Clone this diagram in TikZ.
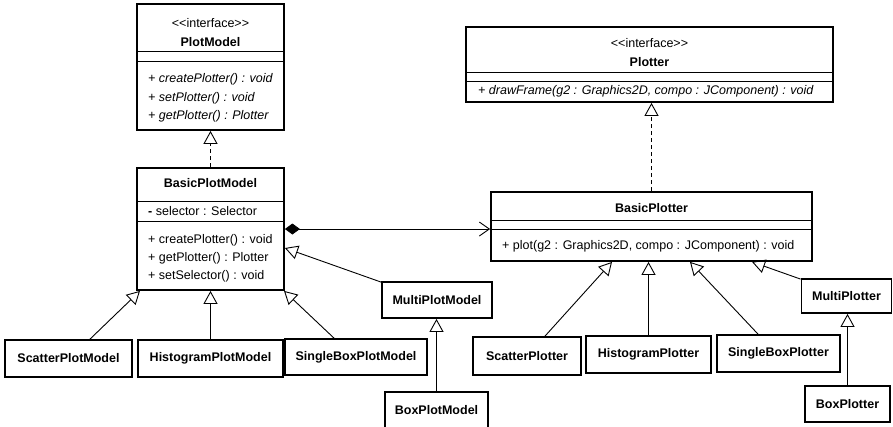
\documentclass[tikz,border=0pt]{standalone}
\usepackage{fontspec}
\setmainfont{Liberation Sans}
\usetikzlibrary{arrows.meta}
\begin{document}
\begin{tikzpicture}[x=1pt,y=-1pt,
  cls/.style={draw, line width=1.8pt, inner sep=0pt, fill=white,
    font=\fontsize{12.5}{14}\selectfont\bfseries},
  sepline/.style={line width=0.9pt},
  txt/.style={anchor=base west, inner sep=0pt, font=\fontsize{12.5}{14}\selectfont},
  itxt/.style={txt, font=\fontsize{12.5}{14}\selectfont\itshape},
  ctxt/.style={anchor=base, inner sep=0pt, font=\fontsize{12.5}{14}\selectfont},
  btxt/.style={anchor=base, inner sep=0pt, font=\fontsize{12.5}{14}\selectfont\bfseries},
  gen/.style={line width=0.9pt, -{Triangle[open, length=13pt, width=14pt, line width=0.9pt]}},
  realz/.style={gen, dash pattern=on 4pt off 3pt},
  comp/.style={line width=0.9pt, {Diamond[length=15pt, width=11pt]}-{Straight Barb[length=10pt, width=14pt, line width=0.9pt]}}
]
\useasboundingbox (0,0) rectangle (893,426);

% ---------- PlotModel ----------
\node[cls, minimum width=147pt, minimum height=126pt] (pm) at (210.5,67) {};
\draw[sepline] ([yshift=-48pt]pm.north west) -- ([yshift=-48pt]pm.north east);
\draw[sepline] ([yshift=-58pt]pm.north west) -- ([yshift=-58pt]pm.north east);
\node[ctxt] (pm1) at (210.5,27) {<{}<interface>{}>};
\node[btxt] (pm2) at (210.5,46) {PlotModel};
\node[itxt] (pm3) at (148,82) {+ createPlotter() : void};
\node[itxt] (pm4) at (148,101) {+ setPlotter() : void};
\node[itxt] (pm5) at (148,119) {+ getPlotter() : Plotter};

% ---------- BasicPlotModel ----------
\node[cls, minimum width=147pt, minimum height=122pt] (bpm) at (210.5,229) {};
\draw[sepline] ([yshift=-34pt]bpm.north west) -- ([yshift=-34pt]bpm.north east);
\draw[sepline] ([yshift=-54pt]bpm.north west) -- ([yshift=-54pt]bpm.north east);
\node[btxt] (bpm1) at (210.5,187) {BasicPlotModel};
\node[txt] (bpm2) at (148,215) {\textbf{-} selector : Selector};
\node[txt] (bpm3) at (148,243) {+ createPlotter() : void};
\node[txt] (bpm4) at (148,261) {+ getPlotter() : Plotter};
\node[txt] (bpm5) at (148,279) {+ setSelector() : void};

% ---------- Plotter ----------
\node[cls, minimum width=367pt, minimum height=75pt] (pl) at (649.5,64.5) {};
\draw[sepline] ([yshift=-46pt]pl.north west) -- ([yshift=-46pt]pl.north east);
\draw[sepline] ([yshift=-55pt]pl.north west) -- ([yshift=-55pt]pl.north east);
\node[ctxt] (pl1) at (649.5,47) {<{}<interface>{}>};
\node[btxt] (pl2) at (649.5,66) {Plotter};
\node[itxt] (pl3) at (478,94) {+ drawFrame(g2 : Graphics2D, compo : JComponent) : void};

% ---------- BasicPlotter ----------
\node[cls, minimum width=321pt, minimum height=69pt] (bp) at (651.5,226.5) {};
\draw[sepline] ([yshift=-29pt]bp.north west) -- ([yshift=-29pt]bp.north east);
\draw[sepline] ([yshift=-38pt]bp.north west) -- ([yshift=-38pt]bp.north east);
\node[btxt] (bp1) at (651.5,212) {BasicPlotter};
\node[txt] (bp2) at (502,249) {+ plot(g2 : Graphics2D, compo : JComponent) : void};

% ---------- left subclasses ----------
\node[cls, minimum width=127pt, minimum height=37pt] (spm) at (68.5,358.5) {ScatterPlotModel};
\node[cls, minimum width=145pt, minimum height=37pt] (hpm) at (210.5,358.5) {HistogramPlotModel};
\node[cls, minimum width=142pt, minimum height=36pt] (sbpm) at (356,357) {SingleBoxPlotModel};
\node[cls, minimum width=110pt, minimum height=36pt] (mpm) at (437,300) {MultiPlotModel};
\node[cls, minimum width=103pt, minimum height=36pt] (bxpm) at (436.5,410) {BoxPlotModel};

% ---------- right subclasses ----------
\node[cls, minimum width=108pt, minimum height=38pt] (sp) at (527,356) {ScatterPlotter};
\node[cls, minimum width=125pt, minimum height=37pt] (hp) at (648.5,354.5) {HistogramPlotter};
\node[cls, minimum width=123pt, minimum height=37pt] (sbp) at (778.5,353.5) {SingleBoxPlotter};
\node[cls, minimum width=90pt, minimum height=34pt] (mp) at (846.5,296) {MultiPlotter};
\node[cls, minimum width=85pt, minimum height=36pt] (bxp) at (847.5,404) {BoxPlotter};

% ---------- realizations ----------
\draw[realz] (bpm.north) -- (pm.south);
\draw[realz] (bp.north) -- (bp.north |- pl.south);

% ---------- composition ----------
\draw[comp] (bpm.east) -- (bpm.east -| bp.west);

% ---------- generalizations (left) ----------
\draw[gen] ([xshift=21.5pt]spm.north) -- ([xshift=-70.5pt]bpm.south);
\draw[gen] (hpm.north) -- (bpm.south);
\draw[gen] ([xshift=-22pt]sbpm.north) -- ([xshift=73.5pt]bpm.south);
\draw[gen] ([yshift=-1pt]mpm.north west) -- ([yshift=-19pt]bpm.east);
\draw[gen] (bxpm.north) -- (bxpm.north |- mpm.south);

% ---------- generalizations (right) ----------
\draw[gen] ([xshift=18pt]sp.north) -- ([xshift=-39.5pt]bp.south);
\draw[gen] (hp.north) -- (hp.north |- bp.south);
\draw[gen] ([xshift=-20.5pt]sbp.north) -- ([xshift=38.5pt]bp.south);
\draw[gen] ([yshift=-1pt]mp.north west) -- ([xshift=100.5pt]bp.south);
\draw[gen] (bxp.north) -- (bxp.north |- mp.south);
\end{tikzpicture}
\end{document}
